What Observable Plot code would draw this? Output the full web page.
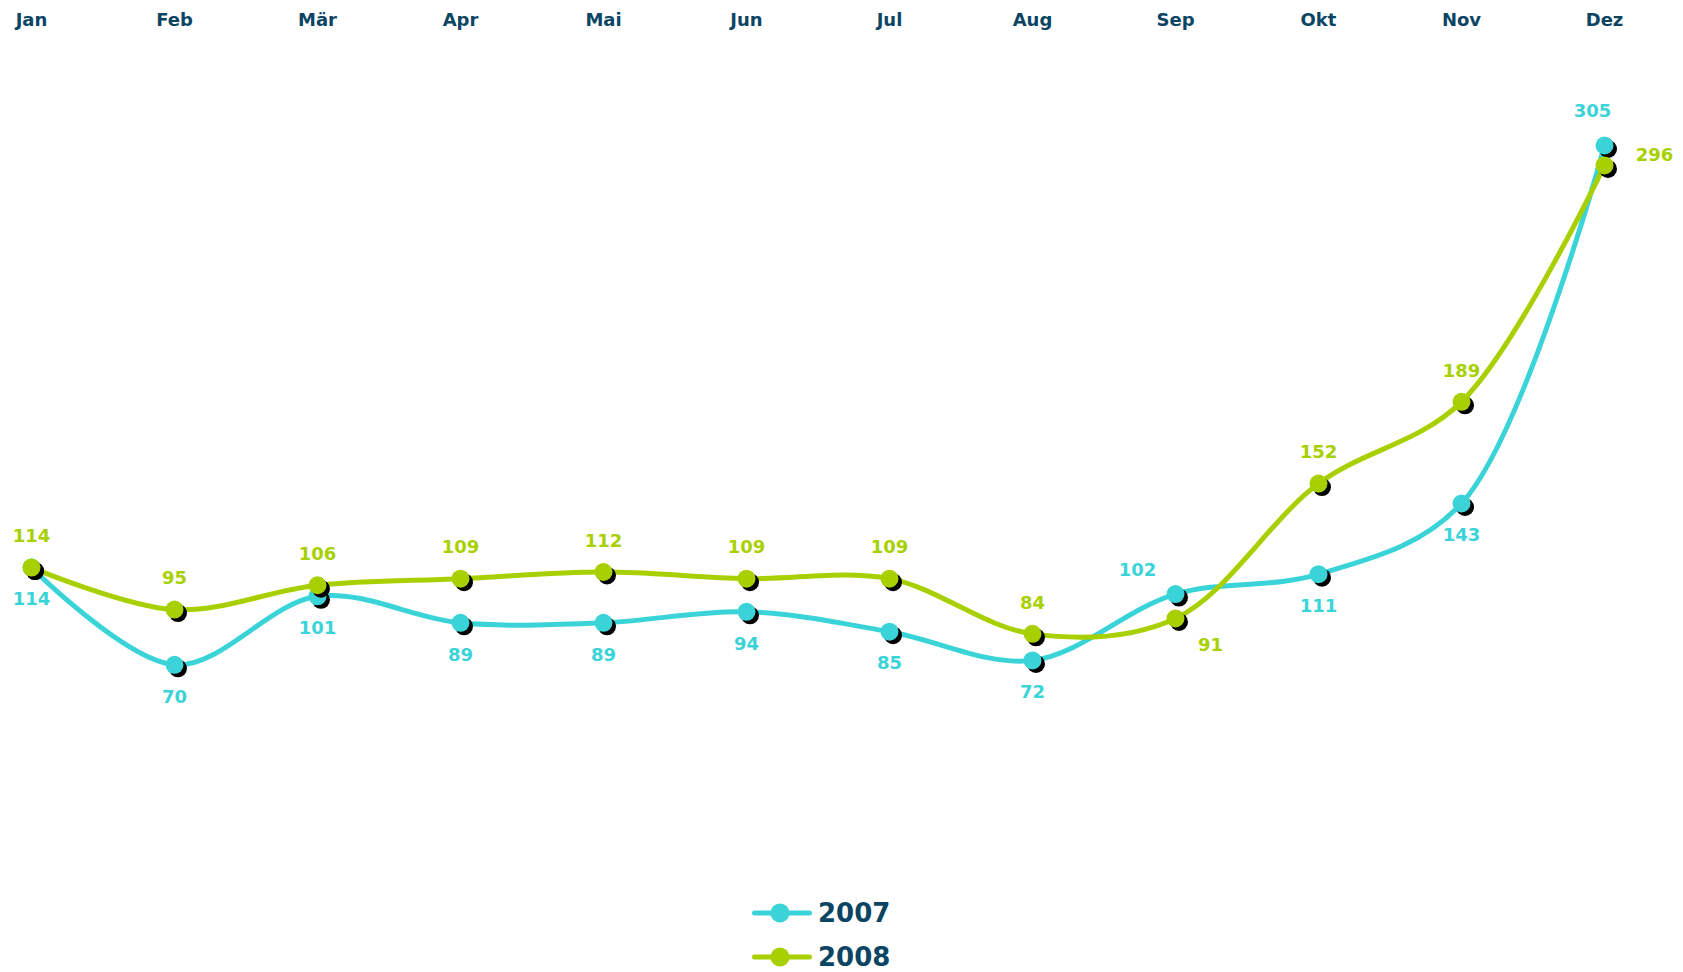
<!DOCTYPE html>
<html>
<head>
<meta charset="utf-8">
<script src="https://cdn.jsdelivr.net/npm/d3@7"></script>
<script src="https://cdn.jsdelivr.net/npm/@observablehq/plot@0.6"></script>
<style>
  html, body { margin: 0; padding: 0; background: #fff; overflow: hidden; }
  body { font-family: "DejaVu Sans", Verdana, sans-serif; }
  #chart { position: absolute; left: 0; top: 0; }
  #legend { position: absolute; left: 752px; top: 891px; }
  .row { display: flex; align-items: center; height: 44px; }
  .row span { font-weight: bold; font-size: 26px; color: #0b4563; margin-left: 6px; }
</style>
</head>
<body>
<div id="chart"></div>
<div id="legend"></div>
<script>
const months = ["Jan","Feb","Mär","Apr","Mai","Jun","Jul","Aug","Sep","Okt","Nov","Dez"];
const seriesNames = ["2007","2008"];
const values2007 = [114,70,101,89,89,94,85,72,102,111,143,305];
const values2008 = [114,95,106,109,112,109,109,84,91,152,189,296];
const colors = ["#3ad4d8","#a8d000"];
// label placement per point
const place2007 = ["below","below","below","below","below","below","below","below","upleft","below","below","upleft2"];
const place2008 = ["above","above","above","above","above","above","above","above","downright","above","above","right"];

const rows = [];
[values2007, values2008].forEach((vals, s) => {
  vals.forEach((v, i) => rows.push({month: months[i], value: v, series: seriesNames[s],
    place: (s === 0 ? place2007 : place2008)[i]}));
});

const offsets = {
  above: [0, -31], below: [0, 32], upleft: [-38, -24], upleft2: [-12, -34],
  downright: [35, 27], right: [50, -10]
};

const marks = [];
seriesNames.forEach((name, s) => {
  const d = rows.filter(r => r.series === name);
  marks.push(Plot.line(d, {x: "month", y: "value", stroke: colors[s], strokeWidth: 5, curve: "catmull-rom"}));
});
seriesNames.forEach((name, s) => {
  const d = rows.filter(r => r.series === name);
  marks.push(Plot.dot(d, {x: "month", y: "value", r: 9, fill: "#000", dx: 3.5, dy: 3.5}));
  marks.push(Plot.dot(d, {x: "month", y: "value", r: 9, fill: colors[s]}));
});
seriesNames.forEach((name, s) => {
  Object.entries(offsets).forEach(([p, [dx, dy]]) => {
    const d = rows.filter(r => r.series === name && r.place === p);
    if (d.length) marks.push(Plot.text(d, {x: "month", y: "value", text: r => String(r.value), dx, dy,
      fill: colors[s], fontSize: 18, fontWeight: "bold"}));
  });
});
marks.push(Plot.text(months, {x: d => d, text: d => d, frameAnchor: "top", dy: -132,
  fill: "#0b4563", fontSize: 18, fontWeight: "bold"}));

const chart = Plot.plot({
  width: 1683,
  height: 880,
  marginTop: 145,
  marginBottom: 61,
  marginLeft: 31,
  marginRight: 79,
  style: {fontFamily: "'DejaVu Sans', Verdana, sans-serif", background: "#fff"},
  x: {type: "point", domain: months, padding: 0, axis: null},
  y: {domain: [0, 305], axis: null},
  marks
});
document.getElementById("chart").appendChild(chart);

const legend = document.getElementById("legend");
seriesNames.forEach((name, s) => {
  const row = document.createElement("div");
  row.className = "row";
  row.innerHTML = `<svg width="60" height="24"><line x1="2.5" y1="12" x2="57.5" y2="12" stroke="${colors[s]}" stroke-width="5" stroke-linecap="round"/><circle cx="28" cy="12" r="9.5" fill="${colors[s]}"/></svg><span>${name}</span>`;
  legend.appendChild(row);
});
</script>
</body>
</html>
